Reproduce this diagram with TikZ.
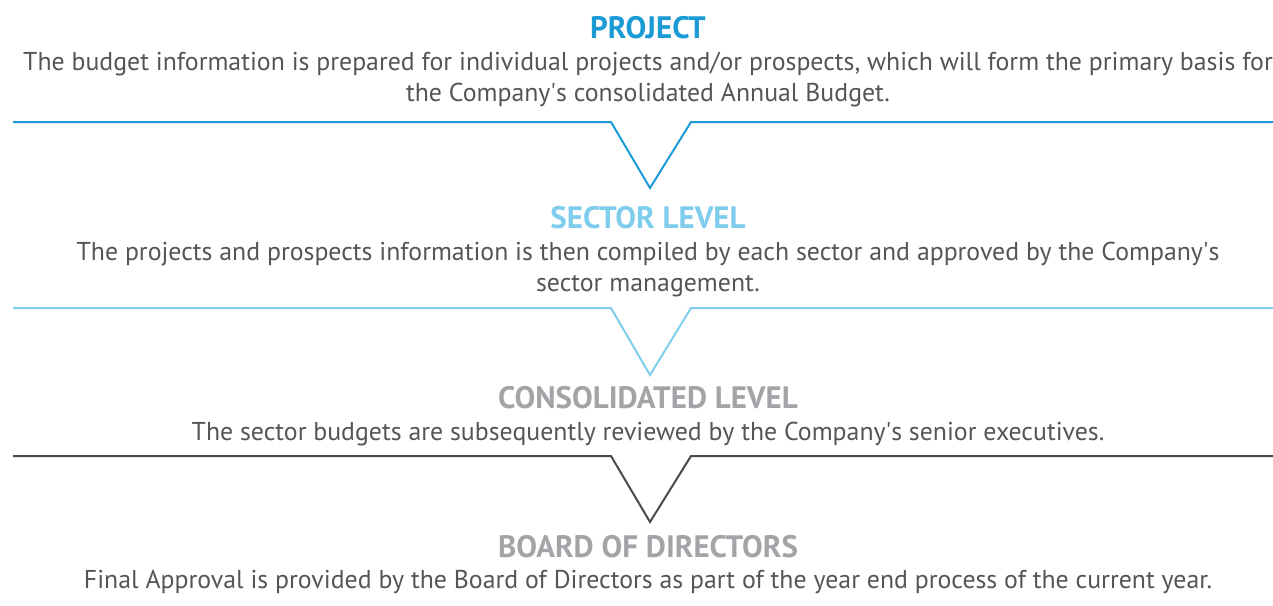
\documentclass[tikz,border=0pt]{standalone}
\usepackage{fontspec}
\setmainfont{PT Sans}

\definecolor{projblue}{HTML}{1B9BD6}
\definecolor{sectblue}{HTML}{7FCDEC}
\definecolor{consgrey}{HTML}{A2A4A7}
\definecolor{textgrey}{HTML}{555555}
\definecolor{linegrey}{HTML}{4A4A4A}

\begin{document}
\begin{tikzpicture}[x=1pt,y=-1pt,
  title node/.style={anchor=base,font=\fontsize{31}{34}\selectfont\bfseries},
  body node/.style={anchor=base,align=center,text=textgrey,font=\fontsize{25.8}{31}\selectfont},
  divider/.style={line width=2pt}]
  \useasboundingbox (0,0) rectangle (1273,605);

  \node[title node,text=projblue] (t0) at (648,38) {PROJECT};
  \node[body node] (b0) at (648,101) {The budget information is prepared for individual projects and/or prospects, which will form the primary basis for\\the Company\textquotesingle s consolidated Annual Budget.};

  \node[title node,text=sectblue] (t1) at (648,228) {SECTOR LEVEL};
  \node[body node] (b1) at (648,291) {The projects and prospects information is then compiled by each sector and approved by the Company\textquotesingle s\\sector management.};

  \node[title node,text=consgrey] (t2) at (648,408) {CONSOLIDATED LEVEL};
  \node[body node] (b2) at (648,440) {The sector budgets are subsequently reviewed by the Company\textquotesingle s senior executives.};

  \node[title node,text=consgrey] (t3) at (648,557) {BOARD OF DIRECTORS};
  \node[body node] (b3) at (648,588) {Final Approval is provided by the Board of Directors as part of the year end process of the current year.};

  \coordinate (l0) at (13,122);  \coordinate (r0) at (1273,122);
  \coordinate (l1) at (13,308);  \coordinate (r1) at (1273,308);
  \coordinate (l2) at (13,456);  \coordinate (r2) at (1273,456);

  \draw[divider,projblue] (l0) -- (611,122) -- (650,188) -- (691,122) -- (r0);
  \draw[divider,sectblue] (l1) -- (611,308) -- (650,375) -- (691,308) -- (r1);
  \draw[divider,linegrey] (l2) -- (611,456) -- (650,522) -- (691,456) -- (r2);

\end{tikzpicture}
\end{document}
